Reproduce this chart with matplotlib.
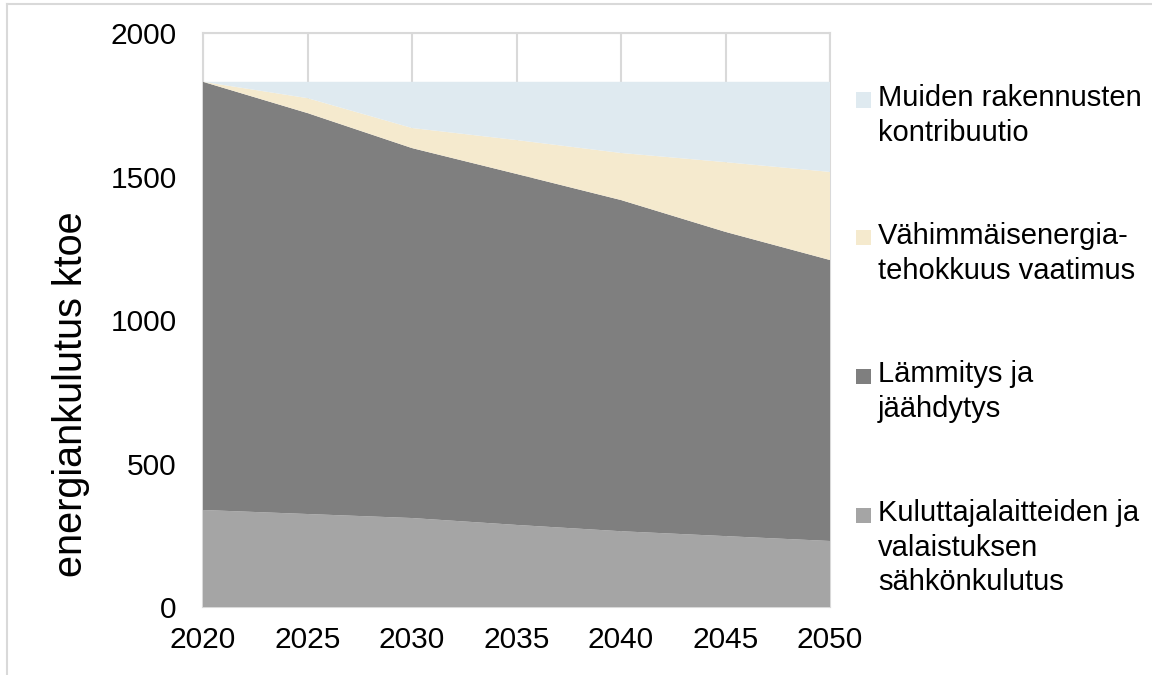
import numpy as np
import matplotlib.pyplot as plt
from matplotlib.patches import Rectangle
from matplotlib.lines import Line2D

plt.rcParams['font.family'] = ['Liberation Sans', 'DejaVu Sans']

# data (ktoe)
years = [2020, 2025, 2030, 2035, 2040, 2045, 2050]
kuluttaja = [338, 324, 310, 286, 264, 247, 230]
lammitys = [1492, 1397, 1289, 1223, 1154, 1060, 979]
vaatimus = [0, 52, 70, 118, 164, 243, 307]
muiden = [0, 57, 161, 203, 248, 280, 314]

labels = ['Kuluttajalaitteiden ja\nvalaistuksen\nsähkönkulutus',
          'Lämmitys ja\njäähdytys',
          'Vähimmäisenergia-\ntehokkuus vaatimus',
          'Muiden rakennusten\nkontribuutio']
colors = ['#a5a5a5', '#7f7f7f', '#f5eace', '#dfeaf0']
grid_col = '#d9d9d9'

W, H = 1152, 675
fig = plt.figure(figsize=(W / 100, H / 100), dpi=100)
ax = fig.add_axes([203 / W, 1 - 607 / H, (830 - 203) / W, (607 - 33) / H])

ax.stackplot(years, kuluttaja, lammitys, vaatimus, muiden, colors=colors, zorder=2)

ax.set_xlim(2020, 2050)
ax.set_ylim(0, 2000)
ax.set_xticks(years)
ax.set_yticks(np.arange(0, 2001, 500))
ax.tick_params(length=0, labelsize=21.5)
ax.tick_params(axis='y', pad=19)
ax.tick_params(axis='x', pad=14)
ax.grid(True, color=grid_col, linewidth=1.5, zorder=0)
ax.set_axisbelow(True)
for s in ax.spines.values():
    s.set_color(grid_col)
    s.set_linewidth(1.5)
    s.set_zorder(0.5)

fig.text(71 / W, 1 - 394 / H, 'energiankulutus ktoe', rotation=90,
         ha='center', va='center', fontsize=28.5)

# legend, first line of each entry aligned with its square
first_line_y = [515, 376, 238, 100]
for lab, col, yc in zip(labels, colors, first_line_y):
    fig.patches.append(Rectangle((856 / W, 1 - (yc + 7.5) / H), 15 / W, 15 / H,
                                 transform=fig.transFigure, facecolor=col,
                                 edgecolor='none'))
    fig.text(878 / W, 1 - (yc - 16) / H, lab, ha='left', va='top', fontsize=21,
             linespacing=1.3, transform=fig.transFigure)

# outer frame lines (top and left)
fig.add_artist(Line2D([7 / W, 1], [1 - 4 / H, 1 - 4 / H], color=grid_col,
                      linewidth=1.5, transform=fig.transFigure))
fig.add_artist(Line2D([7 / W, 7 / W], [0, 1 - 4 / H], color=grid_col,
                      linewidth=1.5, transform=fig.transFigure))

fig.savefig('out.png', dpi=100)
